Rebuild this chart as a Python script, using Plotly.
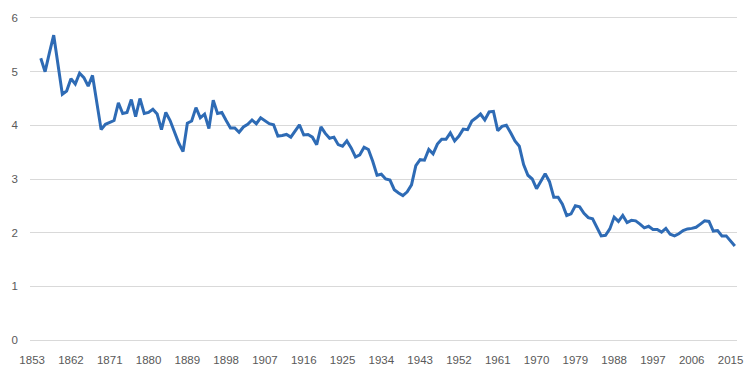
import plotly.graph_objects as go

years = list(range(1855, 2017))
values = [
    5.25, 5.00, 5.35, 5.68, 5.13, 4.58, 4.64, 4.87, 4.77, 4.97,   # 1855-1864
    4.89, 4.73, 4.93, 4.40, 3.92, 4.02, 4.06, 4.09, 4.42, 4.22,   # 1865-1874
    4.24, 4.48, 4.16, 4.50, 4.22, 4.24, 4.30, 4.21, 3.92, 4.24,   # 1875-1884
    4.09, 3.88, 3.67, 3.51, 4.04, 4.08, 4.33, 4.14, 4.21, 3.94,   # 1885-1894
    4.47, 4.22, 4.24, 4.09, 3.95, 3.95, 3.87, 3.97, 4.02, 4.10,   # 1895-1904
    4.03, 4.14, 4.08, 4.03, 4.01, 3.80, 3.81, 3.83, 3.78, 3.90,   # 1905-1914
    4.01, 3.82, 3.83, 3.78, 3.64, 3.97, 3.85, 3.76, 3.78, 3.64,   # 1915-1924
    3.61, 3.71, 3.58, 3.41, 3.45, 3.59, 3.55, 3.33, 3.07, 3.09,   # 1925-1934
    3.00, 2.98, 2.80, 2.74, 2.69, 2.76, 2.89, 3.25, 3.36, 3.35,   # 1935-1944
    3.55, 3.47, 3.65, 3.74, 3.74, 3.86, 3.71, 3.80, 3.93, 3.92,   # 1945-1954
    4.08, 4.14, 4.21, 4.10, 4.25, 4.26, 3.90, 3.98, 4.00, 3.86,   # 1955-1964
    3.71, 3.61, 3.27, 3.07, 3.00, 2.82, 2.97, 3.10, 2.95, 2.66,   # 1965-1974
    2.66, 2.53, 2.32, 2.35, 2.50, 2.48, 2.36, 2.28, 2.26, 2.09,   # 1975-1984
    1.94, 1.95, 2.07, 2.29, 2.21, 2.32, 2.19, 2.23, 2.22, 2.16,   # 1985-1994
    2.09, 2.12, 2.06, 2.06, 2.01, 2.08, 1.97, 1.94, 1.98, 2.04,   # 1995-2004
    2.07, 2.08, 2.10, 2.16, 2.22, 2.21, 2.03, 2.04, 1.94, 1.94,   # 2005-2014
    1.84, 1.75,                                                   # 2015-2016
]
x_ticks = list(range(1853, 2016, 9))
y_ticks = [0, 1, 2, 3, 4, 5, 6]

fig = go.Figure(
    go.Scatter(
        x=years, y=values, mode="lines",
        line=dict(color="#2E6BB5", width=3),
        hoverinfo="x+y",
    )
)

fig.update_layout(
    width=756, height=378,
    margin=dict(l=27, r=19, t=14, b=34),
    paper_bgcolor="white", plot_bgcolor="white",
    showlegend=False,
    font=dict(family="Liberation Sans, Arial, sans-serif", size=11.5, color="#595959"),
)
fig.update_xaxes(
    range=[1852.5, 2016.5],
    tickmode="array", tickvals=x_ticks, ticktext=[str(t) for t in x_ticks],
    showgrid=False, zeroline=False,
    showline=True, mirror=True, linecolor="#D9D9D9", linewidth=1,
    ticks="",
    ticklabelstandoff=9,
)
fig.update_yaxes(
    range=[0, 6],
    tickmode="array", tickvals=y_ticks,
    showgrid=True, gridcolor="#D9D9D9", gridwidth=1,
    zeroline=False, showline=False, ticks="",
    ticklabelstandoff=11,
)

fig.write_html(
    "out.html",
    config={"displayModeBar": False},
    post_script="document.body.style.margin='0';document.body.style.overflow='hidden';",
)
